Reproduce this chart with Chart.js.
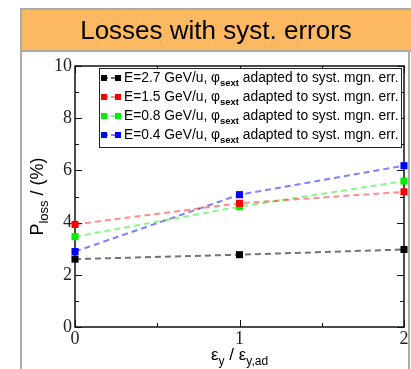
<!DOCTYPE html>
<html>
<head>
<meta charset="utf-8">
<script src="https://cdn.jsdelivr.net/npm/chart.js@4"></script>
<style>
  html, body { margin: 0; padding: 0; background: #fff; }
  #wrap { width: 411px; height: 369px; }
</style>
</head>
<body>
<div id="wrap"><canvas id="lossChart" width="411" height="369"></canvas></div>
<script>
// emittance ratio eps_y / eps_y,ad
const ratios = [0, 1, 2];
const energies = ['2.7', '1.5', '0.8', '0.4'];

// loss in percent, one list per beam energy
const loss27 = [2.60, 2.77, 2.97];
const loss15 = [3.93, 4.74, 5.18];
const loss08 = [3.46, 4.61, 5.59];
const loss04 = [2.89, 5.07, 6.18];

const yTicks = [0, 2, 4, 6, 8, 10];
const xTicks = [0, 1, 2];

const markColors = ['#000000', '#ff0000', '#00ee00', '#0000ff'];
const lineColors = ['rgba(0,0,0,0.55)', 'rgba(255,0,0,0.45)', 'rgba(0,230,0,0.45)', 'rgba(0,0,255,0.5)'];

const SANS = '"Liberation Sans", Arial, sans-serif';
const SERIF = '"Liberation Serif", "Times New Roman", serif';

function series(values, i) {
  return {
    label: 'E=' + energies[i] + ' GeV/u',
    data: ratios.map((r, k) => ({ x: r, y: values[k] })),
    borderColor: lineColors[i],
    borderWidth: 2,
    borderDash: [6, 4],
    pointStyle: 'rect',
    pointRadius: 5,
    pointBorderWidth: 0,
    pointBackgroundColor: markColors[i],
    tension: 0,
    clip: false
  };
}

// slide banner and frame behind everything
const slideFrame = {
  id: 'slideFrame',
  beforeDraw(chart) {
    const c = chart.ctx;
    c.save();
    c.fillStyle = '#fff';
    c.fillRect(0, 0, chart.width, chart.height);
    c.fillStyle = '#fdb962';
    c.fillRect(21, 9, chart.width - 21, 42);
    c.fillStyle = '#aaaaaa';
    c.fillRect(20, 8, chart.width - 20, 2);
    c.fillRect(20, 50, chart.width - 20, 2);
    c.fillRect(20, 8, 2, chart.height - 8);
    c.fillRect(chart.width - 3, 52, 2, chart.height - 52);
    c.restore();
  }
};

// box round the plot with inward tick marks
const plotBox = {
  id: 'plotBox',
  beforeDatasetsDraw(chart) {
    const c = chart.ctx;
    const a = chart.chartArea;
    const xs = chart.scales.x, ys = chart.scales.y;
    c.save();
    c.strokeStyle = '#111';
    c.lineWidth = 1.5;
    c.strokeRect(a.left, a.top, a.right - a.left, a.bottom - a.top);
    c.lineWidth = 1;
    c.beginPath();
    for (let v = 0; v <= 10; v++) {
      const y = Math.round(ys.getPixelForValue(v)) + 0.5;
      const len = v % 2 === 0 ? 7 : 4;
      c.moveTo(a.left, y); c.lineTo(a.left + len, y);
      c.moveTo(a.right, y); c.lineTo(a.right - len, y);
    }
    for (let v = 0; v <= 2; v += 0.5) {
      const x = Math.round(xs.getPixelForValue(v)) + 0.5;
      const len = Number.isInteger(v) ? 7 : 4;
      c.moveTo(x, a.bottom); c.lineTo(x, a.bottom - len);
      c.moveTo(x, a.top); c.lineTo(x, a.top + len);
    }
    c.stroke();
    c.restore();
  }
};

// draws text runs with optional subscripts
function drawRuns(c, runs, x, y) {
  let cx = x;
  runs.forEach(r => {
    c.font = r.font;
    c.fillText(r.text, cx, y + (r.dy || 0));
    cx += c.measureText(r.text).width;
  });
  return cx;
}
function runsWidth(c, runs) {
  let w = 0;
  runs.forEach(r => { c.font = r.font; w += c.measureText(r.text).width; });
  return w;
}

const axisTitles = {
  id: 'axisTitles',
  afterDraw(chart) {
    const c = chart.ctx;
    const a = chart.chartArea;
    c.save();
    c.fillStyle = '#000';
    c.textBaseline = 'alphabetic';
    // x title
    const xr = [
      { text: '\u03b5', font: '17px ' + SANS },
      { text: 'y', font: '12px ' + SANS, dy: 5 },
      { text: ' / \u03b5', font: '17px ' + SANS },
      { text: 'y,ad', font: '12px ' + SANS, dy: 5 }
    ];
    const xw = runsWidth(c, xr);
    drawRuns(c, xr, (a.left + a.right) / 2 - xw / 2, 360);
    // y title, rotated
    const yr = [
      { text: 'P', font: '18px ' + SANS },
      { text: 'loss', font: '13px ' + SANS, dy: 5 },
      { text: ' / (%)', font: '18px ' + SANS }
    ];
    const yw = runsWidth(c, yr);
    c.translate(43, (a.top + a.bottom) / 2);
    c.rotate(-Math.PI / 2);
    drawRuns(c, yr, -yw / 2, 0);
    c.restore();
  }
};

// legend with subscripted phase label
const sextLegend = {
  id: 'sextLegend',
  afterDraw(chart) {
    const c = chart.ctx;
    const bx = 99.5, by = 68.5, bw = 302, bh = 79;
    c.save();
    c.fillStyle = '#fff';
    c.fillRect(bx, by, bw, bh);
    c.strokeStyle = '#222';
    c.lineWidth = 1;
    c.strokeRect(bx, by, bw, bh);
    chart.data.datasets.forEach((ds, i) => {
      const y = 78 + i * 19;
      c.strokeStyle = ds.borderColor;
      c.lineWidth = 2;
      c.setLineDash([4, 3]);
      c.beginPath();
      c.moveTo(104, y); c.lineTo(118, y);
      c.stroke();
      c.setLineDash([]);
      c.fillStyle = ds.pointBackgroundColor;
      c.fillRect(101, y - 3, 6, 6);
      c.fillRect(115, y - 3, 6, 6);
      c.fillStyle = '#000';
      c.textBaseline = 'middle';
      drawRuns(c, [
        { text: ds.label + ', \u03c6', font: '13.8px ' + SANS },
        { text: 'sext', font: 'bold 9.5px ' + SANS, dy: 5 },
        { text: ' adapted to syst. mgn. err.', font: '13.8px ' + SANS }
      ], 124, y);
    });
    c.restore();
  }
};

new Chart(document.getElementById('lossChart'), {
  type: 'line',
  data: {
    datasets: [series(loss27, 0), series(loss15, 1), series(loss08, 2), series(loss04, 3)]
  },
  options: {
    responsive: false,
    animation: false,
    layout: { padding: { top: 8, left: 21, right: 0, bottom: 0 } },
    scales: {
      x: {
        type: 'linear',
        min: 0, max: 2,
        grid: { display: false, drawTicks: false },
        border: { display: false },
        ticks: {
          stepSize: 0.5,
          padding: 1,
          color: '#222',
          font: { family: SERIF, size: 18 },
          callback: v => (xTicks.includes(v) ? String(v) : '')
        },
        afterFit(s) { s.height = 42; }
      },
      y: {
        type: 'linear',
        min: 0, max: 10,
        grid: { display: false, drawTicks: false },
        border: { display: false },
        ticks: {
          stepSize: 1,
          padding: 3,
          color: '#222',
          font: { family: SERIF, size: 18 },
          callback: v => (yTicks.includes(v) ? String(v) : '')
        },
        afterFit(s) { s.width = 54; }
      },
      yRight: {
        type: 'linear',
        position: 'right',
        min: 0, max: 10,
        grid: { display: false, drawTicks: false },
        border: { display: false },
        ticks: { display: false },
        afterFit(s) { s.width = 7; }
      }
    },
    plugins: {
      legend: { display: false },
      tooltip: { enabled: false },
      title: {
        display: true,
        text: 'Losses with syst. errors',
        color: '#000',
        font: { family: SANS, size: 26, weight: 'normal', lineHeight: '26px' },
        padding: { top: 11, bottom: 21 }
      }
    }
  },
  plugins: [slideFrame, plotBox, axisTitles, sextLegend]
});
</script>
</body>
</html>
